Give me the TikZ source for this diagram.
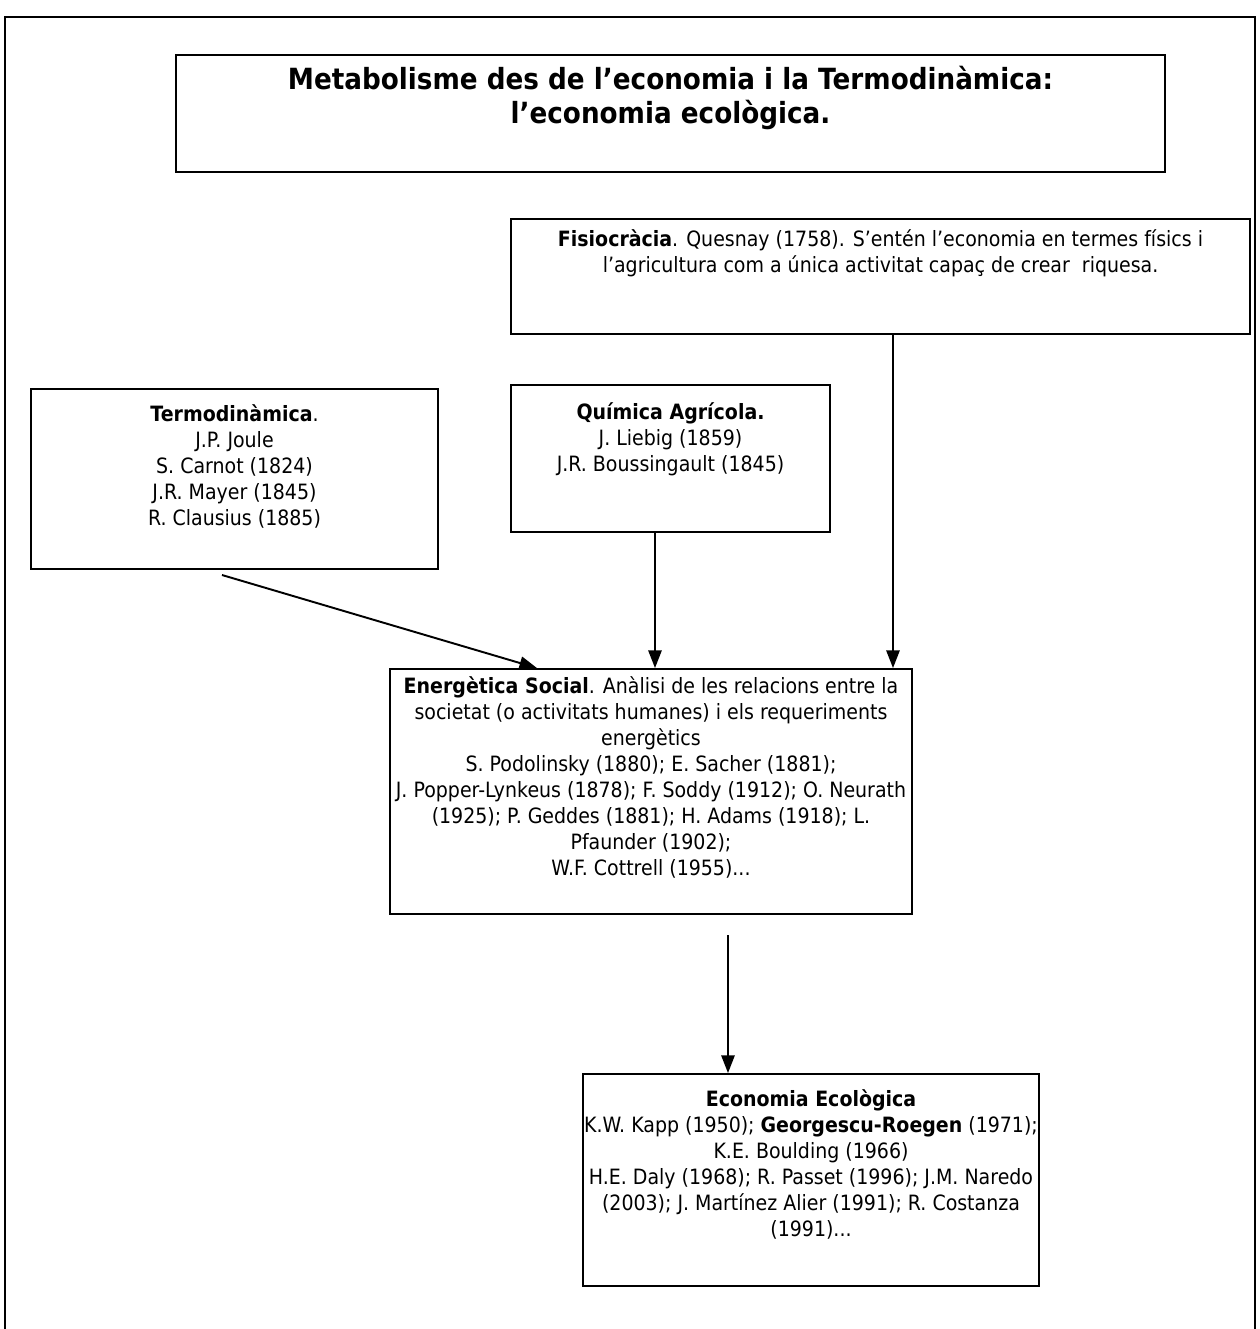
\documentclass[tikz,border=0pt]{standalone}
\usepackage{fontspec}
\setmainfont{DejaVu Sans}[FakeStretch=0.9]
\usetikzlibrary{positioning,arrows.meta}

\begin{document}
\begin{tikzpicture}[
  x=0.02cm, y=-0.02cm,
  box/.style 2 args={draw, line width=1.1pt, minimum width=#1, minimum height=#2, inner sep=0pt},
  txt/.style={font=\fontsize{12}{14.8}\selectfont, align=center, inner sep=0pt},
  ttl/.style={font=\fontsize{16.6}{19.3}\selectfont\bfseries, align=center, inner sep=0pt},
  arr/.style={->, line width=1.1pt},
  >={Triangle[length=10pt,width=7.5pt]}
]

% ── Page frame ───────────────────────────────────────────────
\useasboundingbox (0,0) rectangle (1260,1329);
\draw[line width=1.1pt] (5,1345) -- (5,17) -- (1255,17) -- (1255,1345);

% ── Title ────────────────────────────────────────────────────
\node[box={19.78cm}{2.34cm}] (title) at (670.5,113.5) {};
\node[ttl, below=0.24cm of title.north] (title txt) {Metabolisme des de l’economia i la Termodinàmica:\\ l’economia ecològica.};

% ── Sources (top) ────────────────────────────────────────────
\node[box={14.78cm}{2.30cm}] (fisio) at (880.5,276.5) {};
\node[txt, below=0.22cm of fisio.north] (fisio txt) {\textbf{Fisiocràcia}. Quesnay (1758). S’entén l’economia en termes físics i\\ l’agricultura com a única activitat capaç de crear\ \ riquesa.};

\node[box={8.14cm}{3.60cm}] (termo) at (234.5,479) {};
\node[txt, below=0.33cm of termo.north] (termo txt) {\textbf{Termodinàmica}.\\ J.P. Joule\\ S. Carnot (1824)\\ J.R. Mayer (1845)\\ R. Clausius (1885)};

\node[box={6.38cm}{2.94cm}] (quim) at (670.5,458.5) {};
\node[txt, below=0.37cm of quim.north] (quim txt) {\textbf{Química Agrícola.}\\ J. Liebig (1859)\\ J.R. Boussingault (1845)};

% ── Social energetics ────────────────────────────────────────
\node[box={10.44cm}{4.90cm}] (energ) at (651,791.5) {};
\node[txt, below=0.17cm of energ.north] (energ txt) {\textbf{Energètica Social}. Anàlisi de les relacions entre la\\ societat (o activitats humanes) i els requeriments\\ energètics\\ S. Podolinsky (1880); E. Sacher (1881);\\ J. Popper-Lynkeus (1878); F. Soddy (1912); O. Neurath\\ (1925); P. Geddes (1881); H. Adams (1918); L.\\ Pfaunder (1902);\\ W.F. Cottrell (1955)...};

% ── Ecological economics ─────────────────────────────────────
\node[box={9.12cm}{4.24cm}] (econ) at (811,1180) {};
\node[txt, below=0.33cm of econ.north] (econ txt) {\textbf{Economia Ecològica}\\ K.W. Kapp (1950); \textbf{Georgescu-Roegen} (1971);\\ K.E. Boulding (1966)\\ H.E. Daly (1968); R. Passet (1996); J.M. Naredo\\ (2003); J. Martínez Alier (1991); R. Costanza\\ (1991)...};

% ── Arrows ───────────────────────────────────────────────────
\coordinate (termo out) at (222,575);
\coordinate (energ out) at (728,935);
\draw[arr] (termo out) -- (537,0 |- energ.north);
\draw[arr] (655,0 |- quim.south) -- (655,0 |- energ.north);
\draw[arr] (893,0 |- fisio.south) -- (893,0 |- energ.north);
\draw[arr] (energ out) -- (energ out |- econ.north);

\end{tikzpicture}
\end{document}
